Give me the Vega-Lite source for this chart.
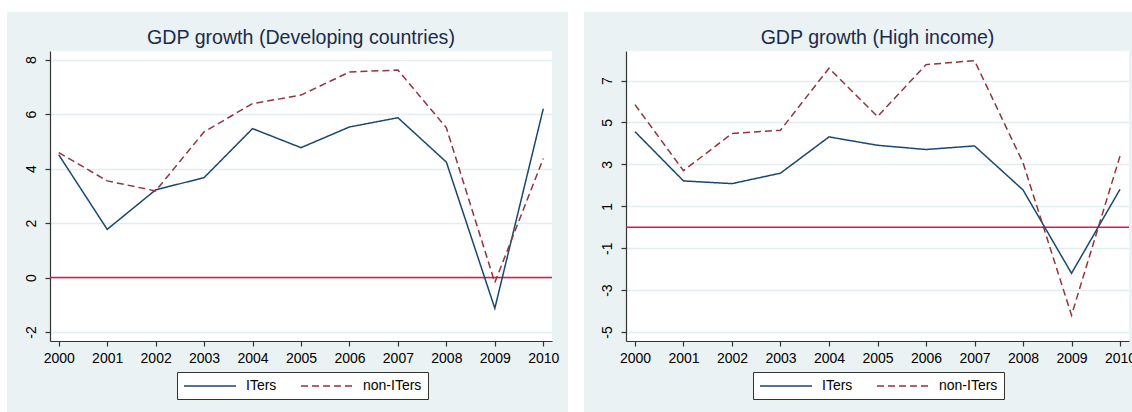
{
  "$schema": "https://vega.github.io/schema/vega-lite/v6.json",
  "background": "#eaf2f3",
  "padding": 0,
  "spacing": 0,
  "resolve": {"scale": {"color": "independent", "strokeDash": "independent"}, "legend": {"color": "independent", "strokeDash": "independent"}},
  "datasets": {
    "none": [],
    "dev": [
      {"year": 2000, "series": "ITers", "value": 4.51},
      {"year": 2001, "series": "ITers", "value": 1.77},
      {"year": 2002, "series": "ITers", "value": 3.22},
      {"year": 2003, "series": "ITers", "value": 3.67},
      {"year": 2004, "series": "ITers", "value": 5.47},
      {"year": 2005, "series": "ITers", "value": 4.77},
      {"year": 2006, "series": "ITers", "value": 5.53},
      {"year": 2007, "series": "ITers", "value": 5.87},
      {"year": 2008, "series": "ITers", "value": 4.24},
      {"year": 2009, "series": "ITers", "value": -1.13},
      {"year": 2010, "series": "ITers", "value": 6.2},
      {"year": 2000, "series": "non-ITers", "value": 4.59},
      {"year": 2001, "series": "non-ITers", "value": 3.55},
      {"year": 2002, "series": "non-ITers", "value": 3.18},
      {"year": 2003, "series": "non-ITers", "value": 5.35},
      {"year": 2004, "series": "non-ITers", "value": 6.39},
      {"year": 2005, "series": "non-ITers", "value": 6.7},
      {"year": 2006, "series": "non-ITers", "value": 7.55},
      {"year": 2007, "series": "non-ITers", "value": 7.62},
      {"year": 2008, "series": "non-ITers", "value": 5.5},
      {"year": 2009, "series": "non-ITers", "value": -0.18},
      {"year": 2010, "series": "non-ITers", "value": 4.37}
    ],
    "high": [
      {"year": 2000, "series": "ITers", "value": 4.56},
      {"year": 2001, "series": "ITers", "value": 2.21},
      {"year": 2002, "series": "ITers", "value": 2.08},
      {"year": 2003, "series": "ITers", "value": 2.58},
      {"year": 2004, "series": "ITers", "value": 4.31},
      {"year": 2005, "series": "ITers", "value": 3.91},
      {"year": 2006, "series": "ITers", "value": 3.71},
      {"year": 2007, "series": "ITers", "value": 3.88},
      {"year": 2008, "series": "ITers", "value": 1.78},
      {"year": 2009, "series": "ITers", "value": -2.2},
      {"year": 2010, "series": "ITers", "value": 1.81},
      {"year": 2000, "series": "non-ITers", "value": 5.85},
      {"year": 2001, "series": "non-ITers", "value": 2.7},
      {"year": 2002, "series": "non-ITers", "value": 4.47},
      {"year": 2003, "series": "non-ITers", "value": 4.63},
      {"year": 2004, "series": "non-ITers", "value": 7.59},
      {"year": 2005, "series": "non-ITers", "value": 5.28},
      {"year": 2006, "series": "non-ITers", "value": 7.76},
      {"year": 2007, "series": "non-ITers", "value": 7.95},
      {"year": 2008, "series": "non-ITers", "value": 3.08},
      {"year": 2009, "series": "non-ITers", "value": -4.2},
      {"year": 2010, "series": "non-ITers", "value": 3.4}
    ],
    "zero": [{"y": 0}]
  },
  "config": {
    "view": {"stroke": null},
    "font": "Liberation Sans",
    "axis": {
      "domainColor": "#333333",
      "tickColor": "#333333",
      "domainWidth": 1.2,
      "tickWidth": 1.2,
      "tickSize": 5,
      "labelColor": "#000000",
      "labelFont": "Liberation Sans",
      "labelFontSize": 14,
      "gridColor": "#e3edef",
      "gridWidth": 1.5,
      "title": null
    },
    "axisX": {"grid": false, "labelPadding": 5, "labelFlush": false},
    "axisY": {"grid": true, "labelAngle": 270, "labelAlign": "center", "labelBaseline": "bottom", "labelPadding": 7},
    "legend": {
      "orient": "none",
      "direction": "horizontal",
      "title": null,
      "symbolType": "M-1,0H6.43",
      "symbolSize": 196,
      "symbolStrokeWidth": 1.5,
      "labelFont": "Liberation Sans",
      "labelFontSize": 14,
      "labelColor": "#000000",
      "labelOffset": 47,
      "columnPadding": 21,
      "padding": 6,
      "rowPadding": 0,
      "strokeColor": "#333333",
      "fillColor": "#ffffff"
    },
    "title": {
      "font": "Liberation Sans",
      "fontSize": 19.6,
      "fontWeight": "normal",
      "color": "#1c2b4a",
      "anchor": "middle",
      "frame": "group",
      "baseline": "alphabetic",
      "offset": 2
    }
  },
  "vconcat": [
    {"data": {"name": "none"}, "mark": "point", "width": 1140, "height": 12, "view": {"fill": "#ffffff"}},
    {
      "spacing": 0,
      "resolve": {"scale": {"color": "independent", "strokeDash": "independent"}, "legend": {"color": "independent", "strokeDash": "independent"}},
      "hconcat": [
        {"data": {"name": "none"}, "mark": "point", "width": 7, "height": 400, "view": {"fill": "#ffffff"}},
        {"data": {"name": "none"}, "mark": "point", "width": 15.5, "height": 400},
        {
          "spacing": 0,
          "vconcat": [
            {"data": {"name": "none"}, "mark": "point", "width": 1, "height": 16},
            {
              "width": 502,
              "height": 290,
              "view": {"fill": "#ffffff"},
              "title": {"text": "GDP growth (Developing countries)"},
              "layer": [
                {
                  "data": {"name": "zero"},
                  "mark": {"type": "rule", "stroke": "#ee1144", "strokeWidth": 1.5, "opacity": 1},
                  "encoding": {"y": {"field": "y", "type": "quantitative"}}
                },
                {
                  "data": {"name": "dev"},
                  "mark": {"type": "line", "strokeWidth": 1.5},
                  "encoding": {
                    "x": {"field": "year", "type": "quantitative",
                      "scale": {"domain": [1999.82, 2010.18], "nice": false, "zero": false},
                      "axis": {"values": [2000, 2001, 2002, 2003, 2004, 2005, 2006, 2007, 2008, 2009, 2010], "format": "d"}},
                    "y": {"field": "value", "type": "quantitative",
                      "scale": {"domain": [-2.33, 8.32], "nice": false, "zero": false},
                      "axis": {"values": [-2, 0, 2, 4, 6, 8], "labelExpr": "'' + datum.value"}},
                    "color": {"field": "series", "type": "nominal",
                      "scale": {"domain": ["ITers", "non-ITers"], "range": ["#1a476f", "#90353b"]},
                      "legend": {"legendX": 127, "legendY": 360}},
                    "strokeDash": {"field": "series", "type": "nominal",
                      "scale": {"domain": ["ITers", "non-ITers"], "range": [[1, 0], [7, 4]]},
                      "legend": {"legendX": 127, "legendY": 360}}
                  }
                }
              ]
            }
          ]
        },
        {"data": {"name": "none"}, "mark": "point", "width": 9, "height": 400},
        {"data": {"name": "none"}, "mark": "point", "width": 16, "height": 400, "view": {"fill": "#ffffff"}},
        {"data": {"name": "none"}, "mark": "point", "width": 15.5, "height": 400},
        {
          "spacing": 0,
          "vconcat": [
            {"data": {"name": "none"}, "mark": "point", "width": 1, "height": 16},
            {
              "width": 503,
              "height": 290,
              "view": {"fill": "#ffffff"},
              "title": {"text": "GDP growth (High income)"},
              "layer": [
                {
                  "data": {"name": "zero"},
                  "mark": {"type": "rule", "stroke": "#ee1144", "strokeWidth": 1.5, "opacity": 1},
                  "encoding": {"y": {"field": "y", "type": "quantitative"}}
                },
                {
                  "data": {"name": "high"},
                  "mark": {"type": "line", "strokeWidth": 1.5},
                  "encoding": {
                    "x": {"field": "year", "type": "quantitative",
                      "scale": {"domain": [1999.815, 2010.185], "nice": false, "zero": false},
                      "axis": {"values": [2000, 2001, 2002, 2003, 2004, 2005, 2006, 2007, 2008, 2009, 2010], "format": "d"}},
                    "y": {"field": "value", "type": "quantitative",
                      "scale": {"domain": [-5.43, 8.41], "nice": false, "zero": false},
                      "axis": {"values": [-5, -3, -1, 1, 3, 5, 7], "labelExpr": "'' + datum.value"}},
                    "color": {"field": "series", "type": "nominal",
                      "scale": {"domain": ["ITers", "non-ITers"], "range": ["#1a476f", "#90353b"]},
                      "legend": {"legendX": 127, "legendY": 360}},
                    "strokeDash": {"field": "series", "type": "nominal",
                      "scale": {"domain": ["ITers", "non-ITers"], "range": [[1, 0], [7, 4]]},
                      "legend": {"legendX": 127, "legendY": 360}}
                  }
                }
              ]
            }
          ]
        }
      ]
    }
  ]
}
